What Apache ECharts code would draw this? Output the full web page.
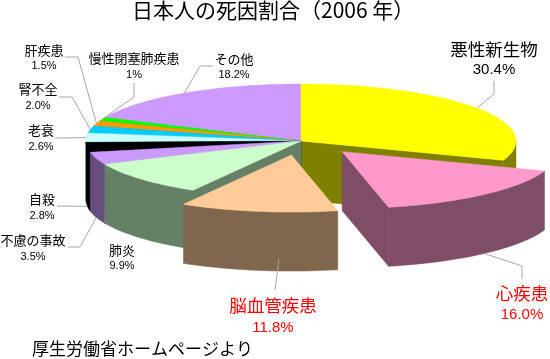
<!DOCTYPE html>
<html>
<head>
<meta charset="utf-8">
<style>html,body{margin:0;padding:0;background:#fff}#chart{width:550px;height:359px}</style>
<script src="https://cdn.jsdelivr.net/npm/echarts@6/dist/echarts.min.js"></script>
</head>
<body>
<div id="chart"></div>
<script>
var causes = ['悪性新生物', '心疾患', '脳血管疾患', '肺炎', '不慮の事故', '自殺', '老衰', '腎不全', '肝疾患', '慢性閉塞肺疾患', 'その他'];
var shares = [30.4, 16.0, 11.8, 9.9, 3.5, 2.8, 2.6, 2.0, 1.5, 1, 18.2];
var shareLabels = ['30.4%', '16.0%', '11.8%', '9.9%', '3.5%', '2.8%', '2.6%', '2.0%', '1.5%', '1%', '18.2%'];
var topColors = ['#ffff00', '#ff99cc', '#ffcc99', '#ccffcc', '#cc99ff', '#000000', '#ccffff', '#00ccff', '#ff9900', '#00ff00', '#cc99ff'];
var sideColors = ['#808000', '#804d66', '#80664d', '#668066', '#664d80', '#000000', '#668080', '#006680', '#804d00', '#008000', '#664d80'];
var explodedCauses = ['心疾患', '脳血管疾患'];
var drawOrder = ['その他', '慢性閉塞肺疾患', '肝疾患', '腎不全', '老衰', '悪性新生物', '自殺', '不慮の事故', '肺炎', '心疾患', '脳血管疾患'];

// pie geometry
var cx = 301, cy = 141, rx = 215, ry = 57, depth = 59, explodeX = 0.29, explodeY = 0.25;

// label boxes: x/y of name and share, elbow points of the leader line
var labelLayout = {
    '悪性新生物': {x: 494, y: 49, y2: 70, big: true, elbows: [[494, 94], [494, 81]]},
    '心疾患': {x: 522, y: 293, y2: 315, big: true, red: true, elbows: [[522, 266], [522, 279]]},
    '脳血管疾患': {x: 273, y: 305, y2: 328, big: true, red: true, anchor: [279, 259], elbows: [[275, 290]]},
    '肺炎': {x: 122, y: 250, y2: 266},
    '不慮の事故': {x: 33, y: 240, y2: 257, elbows: [[80, 247], [68, 247]]},
    '自殺': {x: 42, y: 199, y2: 216, elbows: [[57, 206]]},
    '老衰': {x: 41, y: 130, y2: 147, elbows: [[55, 138]]},
    '腎不全': {x: 38, y: 89, y2: 106, elbows: [[72, 97], [59, 97]]},
    '肝疾患': {x: 44, y: 50, y2: 66, elbows: [[78, 57], [65, 57]]},
    '慢性閉塞肺疾患': {x: 134, y: 58, y2: 75, elbows: [[134, 97], [134, 83]]},
    'その他': {x: 234, y: 59, y2: 75, elbows: [[200, 66], [213, 66]]}
};

var total = shares.reduce(function (a, b) { return a + b; }, 0);
var slices = {};
var acc = 0;
causes.forEach(function (name, i) {
    var start = acc / total * Math.PI * 2;
    acc += shares[i];
    var end = acc / total * Math.PI * 2;
    var mid = (start + end) / 2;
    var isOut = explodedCauses.indexOf(name) >= 0;
    slices[name] = {
        index: i,
        start: start,
        end: end,
        mid: mid,
        ox: cx + (isOut ? explodeX * rx * Math.sin(mid) : 0),
        oy: cy - (isOut ? explodeY * ry * Math.cos(mid) : 0)
    };
});

function rimPoint(s, angle, drop) {
    return [s.ox + rx * Math.sin(angle), s.oy - ry * Math.cos(angle) + (drop || 0)];
}

function arcPoints(s, from, to, drop) {
    var pts = [];
    var steps = Math.max(2, Math.ceil((to - from) / 0.03));
    for (var i = 0; i <= steps; i++) {
        pts.push(rimPoint(s, from + (to - from) * i / steps, drop));
    }
    return pts;
}

function poly(points, color) {
    return {
        type: 'polygon',
        shape: {points: points},
        style: {fill: color, stroke: color, lineWidth: 0.5}
    };
}

function renderSlice(params) {
    var name = drawOrder[params.dataIndex];
    var s = slices[name];
    var side = sideColors[s.index];
    var children = [];
    // radial walls, only when they look towards the viewer
    if (Math.sin(s.start) < 0) {
        var p = rimPoint(s, s.start);
        children.push(poly([[s.ox, s.oy], p, [p[0], p[1] + depth], [s.ox, s.oy + depth]], side));
    }
    if (Math.sin(s.end) > 0) {
        var q = rimPoint(s, s.end);
        children.push(poly([[s.ox, s.oy], q, [q[0], q[1] + depth], [s.ox, s.oy + depth]], side));
    }
    // outer wall: front half of the rim only
    var from = Math.max(s.start, Math.PI / 2);
    var to = Math.min(s.end, Math.PI * 1.5);
    if (to > from) {
        children.push(poly(arcPoints(s, from, to, 0).concat(arcPoints(s, from, to, depth).reverse()), side));
    }
    children.push(poly([[s.ox, s.oy]].concat(arcPoints(s, s.start, s.end, 0)), topColors[s.index]));
    return {type: 'group', children: children};
}

function renderLabel(params) {
    var name = causes[params.dataIndex];
    var s = slices[name];
    var box = labelLayout[name];
    var children = [];
    if (box.elbows) {
        var front = Math.cos(s.mid) < 0;
        var anchor = box.anchor || rimPoint(s, s.mid, front ? depth : 0);
        children.push({
            type: 'polyline',
            shape: {points: [anchor].concat(box.elbows)},
            style: {fill: null, stroke: '#a6a6a6', lineWidth: 1}
        });
    }
    var color = box.red ? '#ff0000' : '#000000';
    children.push({
        type: 'text',
        style: {
            x: box.x, y: box.y, text: name, fill: color, align: 'center', verticalAlign: 'middle',
            font: (box.big ? 17.5 : 13) + 'px "Noto Sans CJK JP"'
        }
    });
    children.push({
        type: 'text',
        style: {
            x: box.x, y: box.y2, text: shareLabels[params.dataIndex], fill: color, align: 'center', verticalAlign: 'middle',
            font: (box.big ? 15 : 11) + 'px "Liberation Sans"'
        }
    });
    return {type: 'group', children: children};
}

var myChart = echarts.init(document.getElementById('chart'));
myChart.setOption({
    animation: false,
    backgroundColor: '#ffffff',
    title: {
        text: '日本人の死因割合（2006 年）',
        left: 132,
        top: 0,
        padding: 0,
        textStyle: {fontFamily: 'Noto Sans CJK JP', fontSize: 21, fontWeight: 'normal', color: '#000'}
    },
    graphic: [{
        type: 'text',
        left: 32,
        top: 340,
        style: {text: '厚生労働省ホームページより', fill: '#000', font: '17px "Noto Sans CJK JP"'}
    }],
    series: [
        {type: 'custom', coordinateSystem: 'none', silent: true, z: 2, renderItem: renderSlice, data: drawOrder},
        {type: 'custom', coordinateSystem: 'none', silent: true, z: 3, renderItem: renderLabel, data: causes}
    ]
});
</script>
</body>
</html>
